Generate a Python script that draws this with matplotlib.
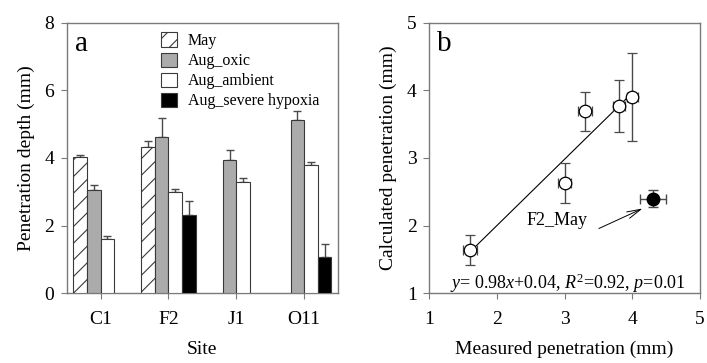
import numpy as np
import matplotlib
matplotlib.use("Agg")
import matplotlib.pyplot as plt
from matplotlib.patches import Patch

plt.rcParams['font.family'] = ['Liberation Serif', 'DejaVu Serif']
plt.rcParams['mathtext.fontset'] = 'custom'
plt.rcParams['mathtext.rm'] = 'Liberation Serif'
plt.rcParams['mathtext.it'] = 'Liberation Serif:italic'
plt.rcParams['hatch.linewidth'] = 0.8

# ---------------- data (panel a) ----------------
sites = ['C1', 'F2', 'J1', 'O11']
series = ['May', 'Aug_oxic', 'Aug_ambient', 'Aug_severe hypoxia']
may_vals = [4.02, 4.31, np.nan, np.nan]
may_err = [0.08, 0.19, np.nan, np.nan]
oxic_vals = [3.04, 4.61, 3.93, 5.12]
oxic_err = [0.16, 0.58, 0.30, 0.26]
ambient_vals = [1.59, 3.00, 3.30, 3.80]
ambient_err = [0.10, 0.09, 0.10, 0.09]
severe_vals = [np.nan, 2.31, np.nan, 1.07]
severe_err = [np.nan, 0.41, np.nan, 0.39]

# ---------------- data (panel b) ----------------
measured = [1.6, 3.0, 3.3, 3.8, 4.0]
measured_err = [0.10, 0.09, 0.10, 0.09, 0.08]
calculated = [1.64, 2.63, 3.69, 3.77, 3.90]
calculated_err = [0.22, 0.30, 0.29, 0.38, 0.65]
f2may_measured = 4.31
f2may_measured_err = 0.19
f2may_calc = 2.40
f2may_calc_err = 0.12
slope, intercept = 0.98, 0.04

fig = plt.figure(figsize=(7.07, 3.63), dpi=100)
axa = fig.add_axes([0.0943, 0.192, 0.384, 0.746])
axb = fig.add_axes([0.607, 0.192, 0.383, 0.746])

spine_col = '#7a7a7a'
edge_col = '#3a3a3a'
err_col = '#4a4a4a'

x = np.arange(1, len(sites) + 1)
w = 0.2
styles = [
    dict(facecolor='white', hatch='//'),
    dict(facecolor='#ababab'),
    dict(facecolor='white'),
    dict(facecolor='black'),
]
vals = [may_vals, oxic_vals, ambient_vals, severe_vals]
errs = [may_err, oxic_err, ambient_err, severe_err]
offsets = [-0.3, -0.1, 0.1, 0.3]
for v, e, off, st in zip(vals, errs, offsets, styles):
    v = np.array(v, dtype=float)
    e = np.array(e, dtype=float)
    axa.bar(x + off, v, width=w, edgecolor=edge_col, linewidth=0.8, zorder=3, **st)
    axa.errorbar(x + off, v, yerr=[np.zeros_like(e), e], fmt='none',
                 ecolor=err_col, elinewidth=1.0, capsize=3, capthick=1.0, zorder=2)

axa.set_xlim(0.5, 4.5)
axa.set_ylim(0, 8)
axa.set_xticks(x)
axa.set_xticklabels(sites)
axa.set_yticks([0, 2, 4, 6, 8])
axa.set_xlabel('Site', fontsize=14, labelpad=9)
axa.set_ylabel('Penetration depth (mm)', fontsize=14, labelpad=7)
axa.text(0.03, 0.92, 'a', transform=axa.transAxes, fontsize=21, va='center', ha='left')

handles = [Patch(facecolor=s['facecolor'], hatch=s.get('hatch'), edgecolor=edge_col, linewidth=0.8)
           for s in styles]
axa.legend(handles, series, loc='upper left', bbox_to_anchor=(0.335, 0.975), frameon=False,
           fontsize=11.5, handlelength=1.0, handleheight=1.0, handletextpad=0.7,
           labelspacing=0.22, borderaxespad=0, borderpad=0.2)

# panel b
xx = np.array([min(measured), max(measured)])
axb.plot(xx, slope * xx + intercept, color='black', linewidth=0.8, zorder=2)
axb.errorbar(measured, calculated, xerr=measured_err, yerr=calculated_err, fmt='o',
             mfc='white', mec='black', mew=0.9, ms=9, ecolor=err_col, elinewidth=1.0,
             capsize=3.5, capthick=1.0, zorder=3)
axb.errorbar([f2may_measured], [f2may_calc], xerr=[f2may_measured_err], yerr=[f2may_calc_err],
             fmt='o', mfc='black', mec='black', ms=9, ecolor=err_col, elinewidth=1.0,
             capsize=3.5, capthick=1.0, zorder=3)
axb.set_xlim(1, 5)
axb.set_ylim(1, 5)
axb.set_xticks([1, 2, 3, 4, 5])
axb.set_yticks([1, 2, 3, 4, 5])
axb.set_xlabel('Measured penetration (mm)', fontsize=14, labelpad=9)
axb.set_ylabel('Calculated penetration (mm)', fontsize=14, labelpad=7)
axb.text(0.03, 0.92, 'b', transform=axb.transAxes, fontsize=21, va='center', ha='left')
axb.text(2.44, 2.08, 'F2_May', fontsize=13, va='center', ha='left')
axb.annotate('', xy=(4.19, 2.27), xytext=(3.47, 1.94),
             arrowprops=dict(arrowstyle='->,head_length=1.0,head_width=0.25', color='black', lw=0.7))
axb.text(1.31, 1.15, r'$y$= 0.98$x$+0.04, $R^2$=0.92, $p$=0.01', fontsize=13, va='center', ha='left')

for ax in (axa, axb):
    for sp in ax.spines.values():
        sp.set_color(spine_col)
        sp.set_linewidth(1.0)
    ax.tick_params(direction='out', length=4, width=0.8, color=spine_col, labelsize=14)
    ax.tick_params(axis='x', pad=9)
    ax.tick_params(axis='y', pad=5)

fig.savefig('out.png', dpi=100)
